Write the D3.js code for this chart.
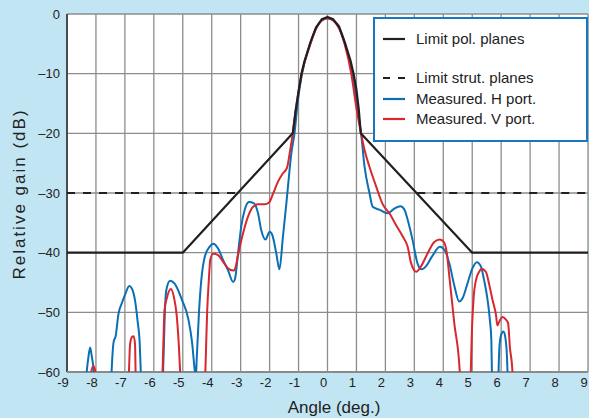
<!DOCTYPE html>
<html lang="en">
<meta charset="utf-8">
<head>
  <title>Antenna pattern</title>
  <style>
  body { margin: 0; background: #c2e5f4; }
  svg { display: block; font-family: "Liberation Sans", Arial, sans-serif; }
  .grid line { stroke: #8d8d8d; stroke-width: 1.3px; }
  .tick-label { font-size: 13px; fill: #222; }
  .legend text { font-size: 15px; fill: #222; }
  </style>
</head>
<body>
<svg width="589" height="418"></svg>
<script src="https://d3js.org/d3.v7.min.js"></script>
<script>

// ---- data ----
var angleTicks = d3.range(-9, 10);
var gainTicks = [0, -10, -20, -30, -40, -50, -60];

// limit for polarisation planes [angle, gain]
var limitPol = [[-9, -40], [-5, -40], [-1.2, -20], [-1.1, -16.2], [-1.0, -13], [-0.9, -10],
  [-0.8, -8], [-0.6, -4.9], [-0.4, -2.3], [-0.2, -0.9], [0, -0.5], [0.2, -0.9], [0.4, -2.1],
  [0.6, -4.8], [0.8, -7.9], [0.9, -10], [1.0, -12.7], [1.08, -16], [1.15, -20], [5, -40], [9, -40]];

// limit for strut planes (two pieces)
var strutLeft = [[-9, -30], [-3.1, -30]];
var strutRight = [[3.1, -30], [9, -30]];

// measured, H port
var measuredH = [[-8.4, -65], [-8.32, -60], [-8.26, -57.5], [-8.2, -55.9], [-8.14, -57.5], [-8.07, -60], [-8.0, -65],
  [-7.5, -65], [-7.46, -60], [-7.39, -55], [-7.32, -54], [-7.22, -50.2], [-7.1, -48.4], [-6.99, -47],
  [-6.85, -45.6], [-6.76, -46], [-6.65, -48], [-6.56, -51.5], [-6.49, -55], [-6.45, -60], [-6.4, -65],
  [-5.75, -65], [-5.68, -60], [-5.62, -50], [-5.57, -46.3], [-5.44, -44.7], [-5.28, -45.2], [-5.03, -47.9],
  [-4.8, -51.3], [-4.68, -55], [-4.58, -60], [-4.55, -61], [-4.52, -58], [-4.44, -50], [-4.36, -44.6],
  [-4.24, -40.7], [-4.07, -39], [-3.95, -38.5], [-3.78, -39.3], [-3.61, -41.2], [-3.44, -42.9], [-3.26, -44.9],
  [-3.2, -44.5], [-3.09, -40.1], [-2.98, -35.6], [-2.86, -32.8], [-2.71, -31.5], [-2.55, -31.7], [-2.4, -33.4],
  [-2.29, -36.2], [-2.14, -37.8], [-2.0, -36.5], [-1.91, -37], [-1.77, -40.1], [-1.66, -42.8], [-1.54, -37.3],
  [-1.42, -31.7], [-1.31, -26.1], [-1.25, -23.4], [-1.14, -20], [-1.02, -14.4], [-0.88, -10], [-0.6, -5],
  [-0.4, -2.5], [-0.2, -1.1], [0, -0.7], [0.2, -1.1], [0.4, -2.3], [0.6, -4.9], [0.85, -10], [1.0, -14.5],
  [1.1, -18], [1.16, -20], [1.28, -25.6], [1.45, -30], [1.56, -32.3], [1.79, -32.8], [2.08, -33.4],
  [2.31, -32.6], [2.52, -32.2], [2.66, -32.8], [2.77, -34.5], [2.94, -37.9], [3.11, -41.8], [3.25, -42.8],
  [3.4, -42.3], [3.63, -40.5], [3.88, -39], [4.05, -39.6], [4.22, -42], [4.38, -45.5], [4.55, -48.2],
  [4.67, -47.6], [4.84, -45.1], [5.01, -42.6], [5.16, -41.6], [5.3, -42.3], [5.41, -44.6], [5.53, -47.9],
  [5.61, -51.3], [5.66, -54.6], [5.68, -60], [5.7, -65], [5.89, -65], [5.91, -60], [5.95, -55.2],
  [6.02, -53.5], [6.08, -53.2], [6.14, -54.1], [6.2, -57.4], [6.22, -60], [6.25, -65]];

// measured, V port
var measuredV = [[-8.25, -65], [-8.16, -60], [-8.09, -59], [-8.02, -60], [-7.95, -65],
  [-6.9, -65], [-6.86, -60], [-6.82, -55.3], [-6.75, -54.1], [-6.7, -54], [-6.65, -55.3], [-6.63, -60], [-6.6, -65],
  [-5.75, -65], [-5.7, -60], [-5.63, -49.6], [-5.55, -47.6], [-5.41, -46.1], [-5.3, -47.6], [-5.21, -50.5],
  [-5.14, -55.2], [-5.09, -60], [-5.05, -65],
  [-4.26, -65], [-4.22, -60], [-4.16, -50.2], [-4.1, -44.6], [-4.05, -41.2], [-3.95, -40.2], [-3.78, -40.4],
  [-3.61, -41.5], [-3.44, -42.6], [-3.25, -43], [-3.18, -42.5], [-3.09, -40.4], [-2.92, -36.8], [-2.75, -34],
  [-2.57, -32.3], [-2.4, -31.9], [-2.17, -31.9], [-2.02, -31.6], [-1.88, -30.1], [-1.71, -28.1], [-1.54, -26.7],
  [-1.4, -25.8], [-1.29, -22.8], [-1.2, -20], [-1.1, -16.1], [-0.89, -10], [-0.6, -5.2], [-0.4, -2.5],
  [-0.2, -1.1], [0, -0.7], [0.2, -1.1], [0.4, -2.4], [0.6, -5.2], [0.82, -10], [1.01, -16.1], [1.16, -20],
  [1.28, -22.8], [1.45, -25.6], [1.68, -28.9], [1.91, -31.9], [2.14, -33.4], [2.37, -35.4], [2.6, -37.3],
  [2.77, -39], [2.89, -41.8], [3.07, -43.2], [3.23, -42.3], [3.46, -40.1], [3.69, -38.2], [3.88, -37.8],
  [4.03, -38.3], [4.12, -40], [4.21, -44], [4.38, -51.8], [4.57, -60], [4.6, -65],
  [4.92, -65], [4.95, -60], [4.99, -53], [5.05, -47.4], [5.13, -44.6], [5.24, -43.2], [5.32, -42.7],
  [5.47, -43.2], [5.59, -45.4], [5.7, -47.9], [5.82, -50.4], [5.87, -52.2], [5.93, -51.6], [6.05, -50.8],
  [6.16, -51.2], [6.24, -51.8], [6.3, -55.8], [6.39, -60], [6.42, -65]];

var legendItems = [
  {label: "Limit pol. planes", color: "#231f20", dash: null, y: 39},
  {label: "Limit strut. planes", color: "#231f20", dash: "7,8", y: 78},
  {label: "Measured. H port.", color: "#0b6fb5", dash: null, y: 99},
  {label: "Measured. V port.", color: "#d7282f", dash: null, y: 119}
];

var svg = d3.select("svg"),
    margin = {top: 14, right: 1, bottom: 46, left: 67},
    width = svg.attr("width") - margin.left - margin.right,
    height = svg.attr("height") - margin.top - margin.bottom,
    g = svg.append("g").attr("transform", "translate(" + margin.left + "," + margin.top + ")");

var x = d3.scaleLinear().domain([-9, 9]).range([0, width]);
var y = d3.scaleLinear().domain([-60, 0]).range([height, 0]);

g.append("rect").attr("width", width).attr("height", height).attr("fill", "#fff");

g.append("clipPath").attr("id", "clip")
  .append("rect").attr("width", width).attr("height", height);

// grid
var grid = g.append("g").attr("class", "grid");
grid.selectAll(".v").data(angleTicks).enter().append("line")
    .attr("x1", function(d) { return x(d); }).attr("x2", function(d) { return x(d); })
    .attr("y1", 0).attr("y2", height);
grid.selectAll(".h").data(gainTicks).enter().append("line")
    .attr("y1", function(d) { return y(d); }).attr("y2", function(d) { return y(d); })
    .attr("x1", 0).attr("x2", width);

// frame: left dark, bottom grey
g.append("line").attr("x1", 0).attr("x2", 0).attr("y1", 0).attr("y2", height)
    .attr("stroke", "#333").attr("stroke-width", 1.6);
g.append("line").attr("x1", 0).attr("x2", width).attr("y1", height).attr("y2", height)
    .attr("stroke", "#8a8a8a").attr("stroke-width", 2);

// tick labels
g.selectAll(".xl").data(angleTicks).enter().append("text")
    .attr("class", "tick-label")
    .attr("x", function(d) { return x(d) - 4; })
    .attr("y", height + 15)
    .attr("text-anchor", "middle")
    .text(function(d) { return d; });
g.selectAll(".yl").data(gainTicks).enter().append("text")
    .attr("class", "tick-label")
    .attr("x", -7)
    .attr("y", function(d) { return y(d); })
    .attr("dy", "0.35em")
    .attr("text-anchor", "end")
    .text(function(d) { return d === 0 ? "0" : "\u2013" + Math.abs(d); });

// axis titles
svg.append("text")
    .attr("x", 334).attr("y", 413)
    .attr("text-anchor", "middle")
    .style("font-size", "17px").style("fill", "#222")
    .text("Angle (deg.)");
svg.append("text")
    .attr("transform", "translate(25," + (margin.top + height / 2 + 1) + ") rotate(-90)")
    .attr("text-anchor", "middle")
    .style("font-size", "17px").style("fill", "#222")
    .style("letter-spacing", "2px")
    .text("Relative gain (dB)");

// lines
var smooth = d3.line()
    .curve(d3.curveMonotoneX)
    .x(function(d) { return x(d[0]); })
    .y(function(d) { return y(d[1]); });
var straight = d3.line()
    .x(function(d) { return x(d[0]); })
    .y(function(d) { return y(d[1]); });

var plot = g.append("g").attr("clip-path", "url(#clip)");

plot.append("path").attr("d", smooth(measuredH))
    .attr("fill", "none").attr("stroke", "#0b6fb5").attr("stroke-width", 2);
plot.append("path").attr("d", smooth(measuredV))
    .attr("fill", "none").attr("stroke", "#d7282f").attr("stroke-width", 2);

[strutLeft, strutRight].forEach(function(seg) {
  plot.append("path").attr("d", straight(seg))
      .attr("fill", "none").attr("stroke", "#231f20").attr("stroke-width", 2.2)
      .attr("stroke-dasharray", "8,8");
});
plot.append("path").attr("d", straight(limitPol))
    .attr("fill", "none").attr("stroke", "#231f20").attr("stroke-width", 2.2)
    .attr("stroke-linejoin", "round");

// legend
var legend = svg.append("g").attr("class", "legend");
legend.append("rect")
    .attr("x", 374).attr("y", 18).attr("width", 213).attr("height", 123)
    .attr("fill", "#fff").attr("stroke", "#1877be").attr("stroke-width", 2);
var item = legend.selectAll(".item").data(legendItems).enter().append("g");
item.append("line")
    .attr("x1", 383).attr("x2", 405)
    .attr("y1", function(d) { return d.y; }).attr("y2", function(d) { return d.y; })
    .attr("stroke", function(d) { return d.color; })
    .attr("stroke-width", 2.2)
    .attr("stroke-dasharray", function(d) { return d.dash; });
item.append("text")
    .attr("x", 416)
    .attr("y", function(d) { return d.y; })
    .attr("dy", "0.35em")
    .text(function(d) { return d.label; });

</script>
</body>
</html>
